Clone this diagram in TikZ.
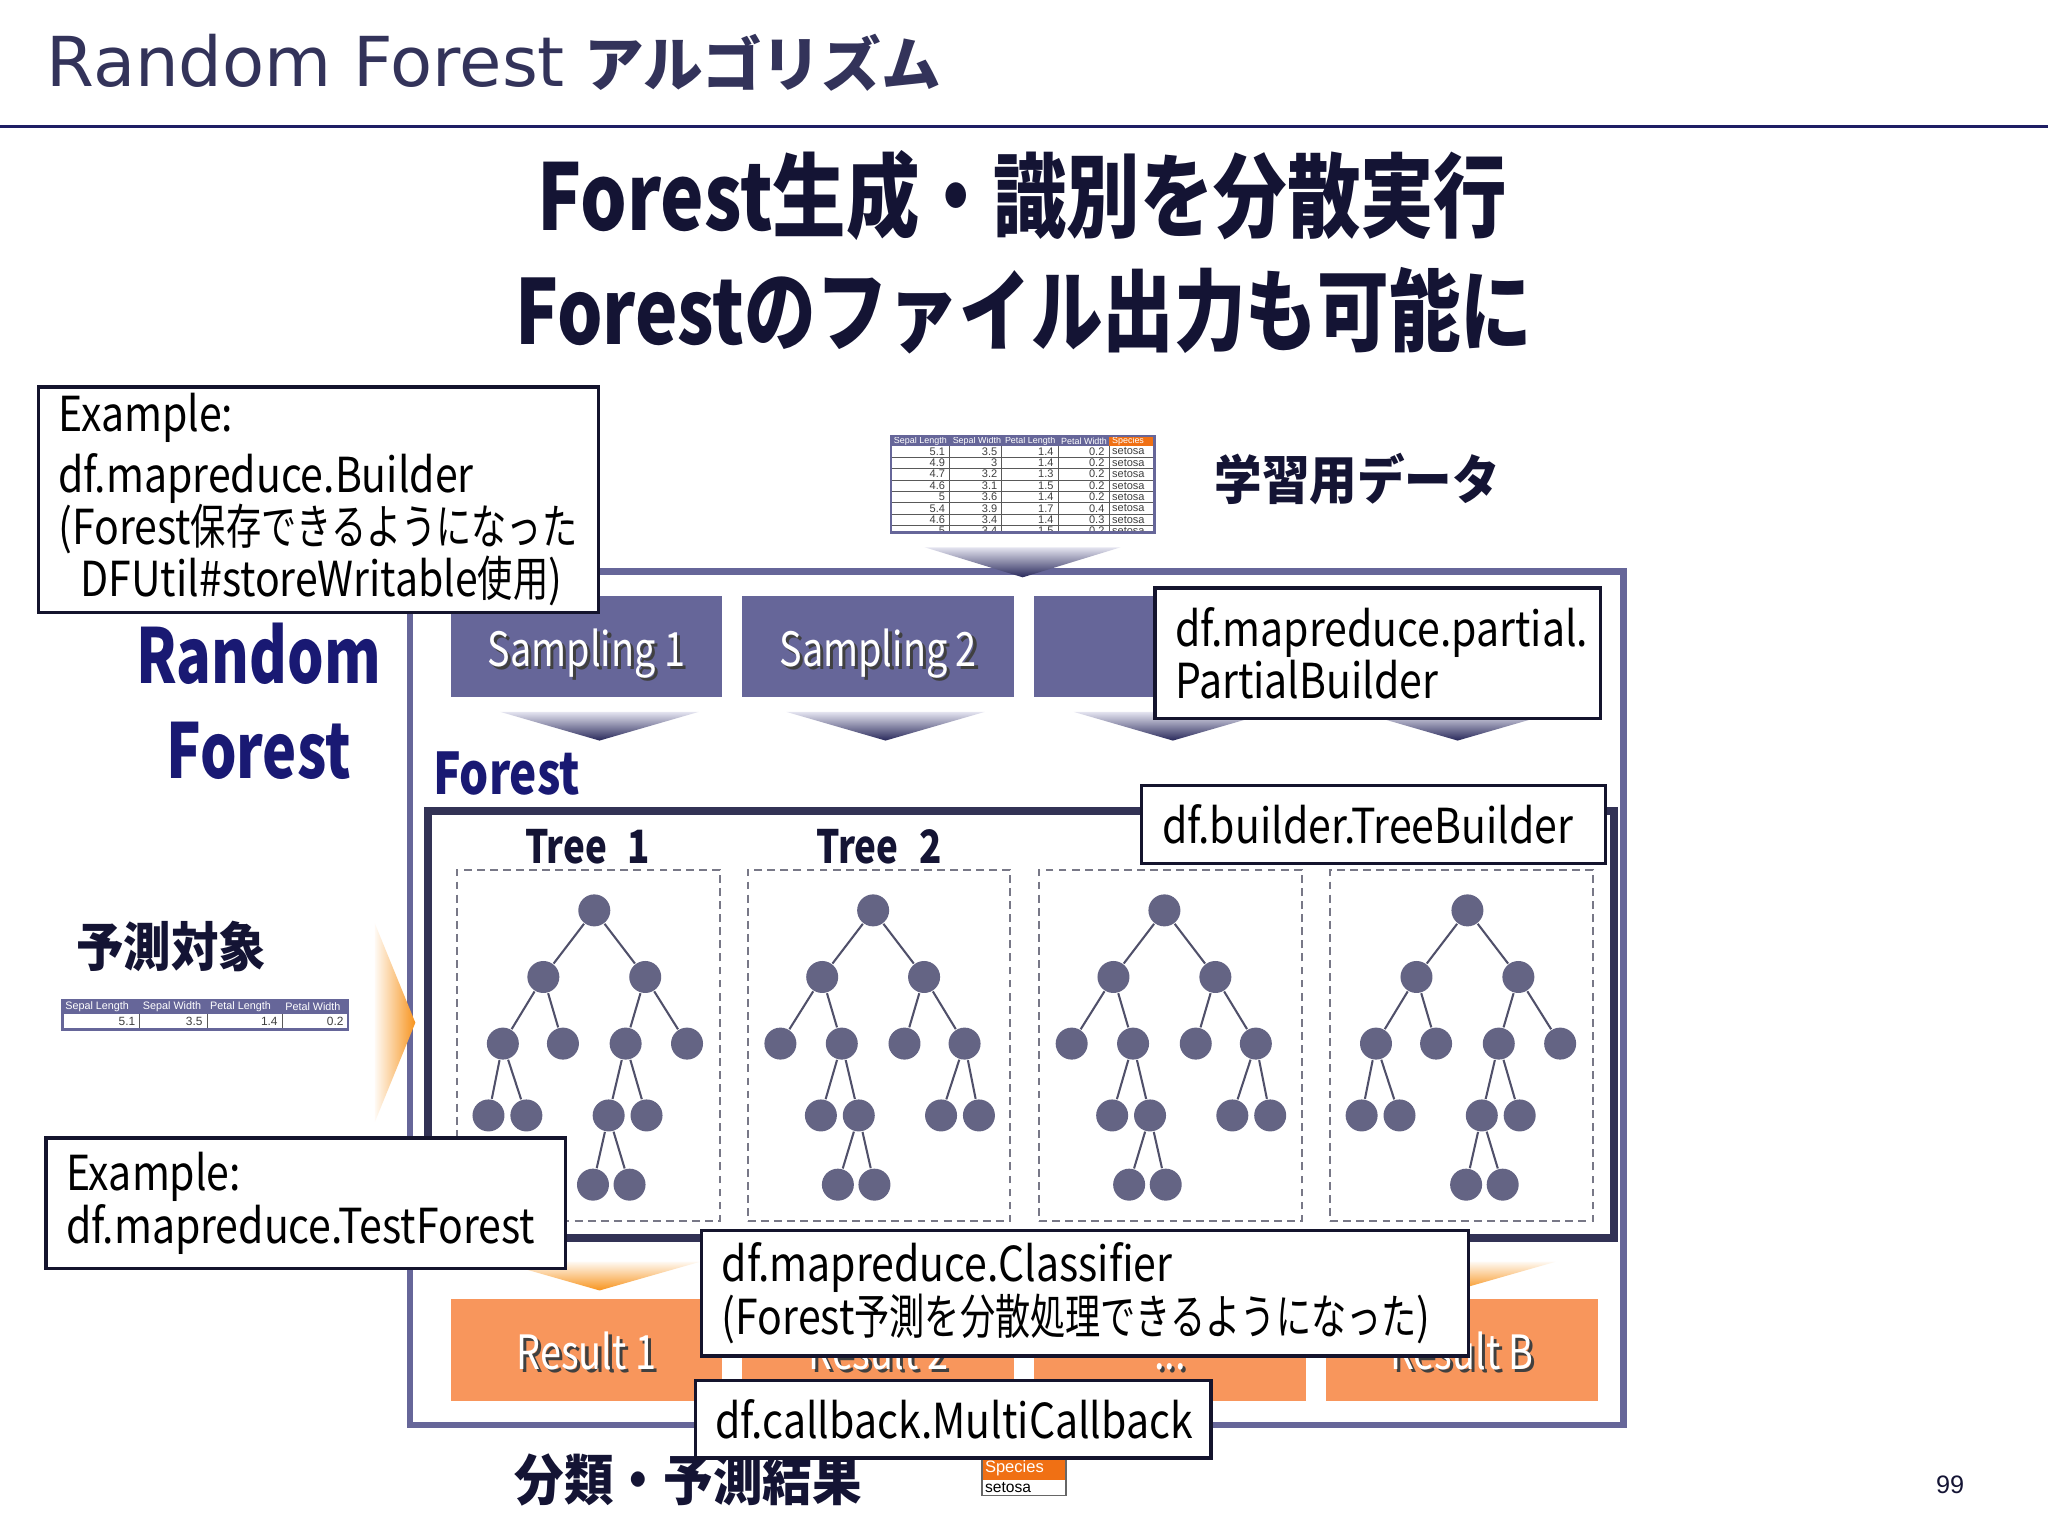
\documentclass[tikz,border=0pt]{standalone}
\usepackage{fontspec}
\setmainfont{Noto Sans CJK JP}[FakeStretch=0.85]
\newfontfamily\jcond{Noto Sans CJK JP}[FakeStretch=0.73]
\newfontfamily\headfont{Noto Sans CJK JP}[FakeStretch=0.8]
\newfontfamily\bigfont{Noto Sans CJK JP}[FakeStretch=0.76]
\newfontfamily\lblfont{Noto Sans CJK JP}[FakeStretch=0.9]
\newfontfamily\jpwide{Noto Sans CJK JP}
\newfontfamily\titlefont{DejaVu Sans}
\newfontfamily\tabfont{Liberation Sans}
\usepackage{tikz}
\usepackage{xcolor}
\definecolor{TitleNavy}{RGB}{51,51,90}
\definecolor{RuleNavy}{RGB}{30,30,100}
\definecolor{HeadNavy}{RGB}{20,20,52}
\definecolor{BigBlue}{RGB}{25,25,115}
\definecolor{FramePurple}{RGB}{102,102,153}
\definecolor{ForestNavy}{RGB}{50,50,85}
\definecolor{NodeGray}{RGB}{100,100,132}
\definecolor{ResultOrange}{RGB}{248,150,92}
\definecolor{ChevOrange}{RGB}{247,148,30}
\definecolor{SpeciesOrange}{RGB}{240,112,20}
\definecolor{ChevDark}{RGB}{40,40,90}
\definecolor{ChevLight}{RGB}{228,228,240}
\definecolor{DashGray}{RGB}{120,120,135}
\definecolor{NoteLine}{RGB}{20,20,45}
\usetikzlibrary{positioning,calc}
\newcommand{\shtxt}[1]{\rlap{\kern0.7pt\raisebox{-0.7pt}{\textcolor{black!75}{#1}}}#1}

\begin{document}
\begin{tikzpicture}[x=0.1mm, y=-0.1mm,
    samp/.style={rectangle, fill=FramePurple, minimum width=20.8mm, minimum height=7.8mm,
                 inner sep=0pt, text=white, font=\headfont\fontsize{10.3}{12}\selectfont,
                 text height=3.1mm, text depth=0.1mm},
    res/.style={samp, fill=ResultOrange},
    tbox/.style={rectangle, draw=DashGray, dash pattern=on 0.6mm off 0.4mm, line width=0.45pt,
                 minimum width=20.1mm, minimum height=26.9mm, inner sep=0pt},
    nd/.style={circle, fill=NodeGray, minimum size=2.45mm, inner sep=0pt},
    ed/.style={draw=NodeGray!80!black, line width=0.45pt},
    note/.style={rectangle, draw=NoteLine, line width=0.7pt, fill=white, anchor=north west,
                 align=left, inner xsep=1.55mm, inner ysep=0pt,
                 font={\fontsize{10.5}{11.4}\selectfont\hyphenpenalty=10000}},
    lbl/.style={font=\lblfont\bfseries\fontsize{11.5}{13}\selectfont, text=HeadNavy},
    chev/.style={top color=ChevLight, bottom color=ChevDark},
    ochev/.style={top color=ChevOrange!6, bottom color=ChevOrange},
    cell/.style={font=\tabfont\fontsize{2.4}{2.8}\selectfont, inner sep=0.5pt, text=black!75},
    hcell/.style={cell, anchor=west, text=white, font=\tabfont\fontsize{1.95}{2.4}\selectfont},
]
\useasboundingbox (0,0) rectangle (1568,1176);
\fill[white] (0,0) rectangle (1568,1176);

% title bar
\node[anchor=west, inner sep=0pt, text=TitleNavy] (title) at (35,48)
  {{\titlefont\fontsize{15}{18}\selectfont Random Forest}\hspace{1.5mm}{\jpwide\bfseries\fontsize{13}{16}\selectfont アルゴリズム}};
\draw[RuleNavy, line width=0.22mm] (0,97) -- (1568,97);

\node[font=\headfont\bfseries\fontsize{20}{24}\selectfont, text=HeadNavy] (head1) at (783,150) {Forest生成・識別を分散実行};
\node[font=\headfont\bfseries\fontsize{19.5}{24}\selectfont, text=HeadNavy] (head2) at (784,238) {Forestのファイル出力も可能に};

% training data
\begin{scope}
  \clip (681,333) rectangle (885,407.6);
  \fill[FramePurple] (682,334) rectangle (849,341.3);
  \fill[SpeciesOrange] (849,334) rectangle (884,341.3);
  \foreach \x/\h [count=\k] in {682/Sepal Length, 727/Sepal Width, 767/Petal Length, 810/Petal Width, 849/Species}
    \node[hcell] (th\k) at (\x,337.7) {\h};
  \foreach \a/\b/\c/\d [count=\r] in {5.1/3.5/1.4/0.2, 4.9/3/1.4/0.2, 4.7/3.2/1.3/0.2, 4.6/3.1/1.5/0.2,
      5/3.6/1.4/0.2, 5.4/3.9/1.7/0.4, 4.6/3.4/1.4/0.3, 5/3.4/1.5/0.2} {
    \pgfmathsetmacro{\yy}{336.95+8.7*\r}
    \node[cell, anchor=east] (da\r) at (726,\yy) {\a};
    \node[cell, anchor=east] (db\r) at (766,\yy) {\b};
    \node[cell, anchor=east] (dc\r) at (809,\yy) {\c};
    \node[cell, anchor=east] (dd\r) at (848,\yy) {\d};
    \node[cell, anchor=west] (de\r) at (849,\yy) {setosa};
    \draw[black!65, line width=0.15pt] (682,\yy+4.35) -- (884,\yy+4.35);
  }
  \foreach \x in {727,767,810,849}
    \draw[black!65, line width=0.15pt] (\x,341.3) -- (\x,410);
\end{scope}
\draw[FramePurple, line width=0.5pt] (682,334) rectangle (884,407.6);
\node[lbl] (train) at (1039,367) {学習用データ};

% outer frame
\draw[FramePurple, line width=0.5mm] (314,437.5) rectangle (1243,1091);
\shade[chev] (708,419) -- (858,419) -- (783,442) -- cycle;

\node[samp] (s1) at (449,495) {\shtxt{Sampling 1}};
\node[samp, right=1.4mm of s1] (s2) {\shtxt{Sampling 2}};
\node[samp, right=1.4mm of s2] (s3) {};
\node[samp, right=1.4mm of s3] (s4) {};
\foreach \cx in {459,678,898,1116}
  \shade[chev] (\cx-76,545) -- (\cx+76,545) -- (\cx,567) -- cycle;

% forest
\node[anchor=west, inner sep=0pt, font=\headfont\bfseries\fontsize{12.5}{14}\selectfont, text=BigBlue] (flbl) at (331,592) {Forest};
\draw[ForestNavy, line width=0.6mm] (328,621) rectangle (1236,948);
\node[font=\headfont\bfseries\fontsize{10}{12}\selectfont, text=HeadNavy] (tl1) at (450,648) {Tree\hspace{0.45em}1};
\node[font=\headfont\bfseries\fontsize{10}{12}\selectfont, text=HeadNavy] (tl2) at (673,648) {Tree\hspace{0.45em}2};

\foreach \t/\cx/\m in {1/450.5/1, 2/673/-1, 3/896/-1, 4/1119/1} {
  \node[tbox] (tb\t) at (\cx,800.5) {};
  \node[nd] (t\t-r) at (\cx+\m*4.5,697) {};
  \node[nd] (t\t-a) at (\cx-\m*34.5,748) {};
  \node[nd] (t\t-b) at (\cx+\m*43.5,748) {};
  \node[nd] (t\t-c) at (\cx-\m*65.5,799) {};
  \node[nd] (t\t-d) at (\cx-\m*19.5,799) {};
  \node[nd] (t\t-e) at (\cx+\m*28.5,799) {};
  \node[nd] (t\t-f) at (\cx+\m*75.5,799) {};
  \node[nd] (t\t-g) at (\cx-\m*76.5,854) {};
  \node[nd] (t\t-h) at (\cx-\m*47.5,854) {};
  \node[nd] (t\t-i) at (\cx+\m*15.5,854) {};
  \node[nd] (t\t-j) at (\cx+\m*44.5,854) {};
  \node[nd] (t\t-k) at (\cx+\m*3.5,907) {};
  \node[nd] (t\t-l) at (\cx+\m*31.5,907) {};
  \foreach \p/\q in {r/a, r/b, a/c, a/d, b/e, b/f, c/g, c/h, e/i, e/j, i/k, i/l}
    \draw[ed] (t\t-\p) -- (t\t-\q);
}

% results
\foreach \cx in {459,678,898,1114}
  \shade[ochev] (\cx-77,966) -- (\cx+77,966) -- (\cx,988) -- cycle;
\node[res] (r1) at (449,1033.5) {\shtxt{Result 1}};
\node[res, right=1.4mm of r1] (r2) {\shtxt{Result 2}};
\node[res, right=1.4mm of r2] (r3) {\shtxt{...}};
\node[res, right=1.4mm of r3] (r4) {\shtxt{Result B}};

% left side
\node[font=\bigfont\bfseries\fontsize{16.5}{20.8}\selectfont, text=BigBlue, align=center] (rf) at (198,537) {Random\\Forest};
\node[lbl] (pred) at (131,725) {予測対象};
\fill[FramePurple] (47.6,765.7) rectangle (266.5,776.4);
\foreach \x/\h [count=\k] in {47.6/Sepal Length, 107/Sepal Width, 158.5/Petal Length, 216/Petal Width}
  \node[hcell, font=\tabfont\fontsize{2.35}{2.8}\selectfont] (qh\k) at (\x,771) {\h};
\foreach \x/\v [count=\k] in {106/5.1, 157.5/3.5, 215/1.4, 265.5/0.2}
  \node[cell, anchor=east, font=\tabfont\fontsize{2.6}{3}\selectfont] (qv\k) at (\x,782.2) {\v};
\foreach \x in {107,158.5,216}
  \draw[black!65, line width=0.15pt] (\x,776.4) -- (\x,788);
\draw[FramePurple, line width=0.6pt] (47.6,765.7) rectangle (266.5,788);
\shade[left color=ChevOrange!5, right color=ChevOrange] (287,707) -- (318,783) -- (287,859) -- cycle;

% bottom
\node[lbl, font=\lblfont\bfseries\fontsize{12}{14}\selectfont] (cls) at (527,1133) {分類・予測結果};
\fill[SpeciesOrange] (751.7,1115) rectangle (816,1133);
\node[cell, anchor=west, text=white, font=\tabfont\fontsize{3.6}{4}\selectfont] (sh) at (751.7,1124) {Species};
\node[cell, anchor=west, text=black, font=\tabfont\fontsize{3.4}{4}\selectfont] (sv) at (751.7,1139) {setosa};
\draw[black!60, line width=0.4pt] (751.7,1115) rectangle (816,1145);
\node[font=\tabfont\fontsize{5.5}{6}\selectfont, text=HeadNavy] (pg) at (1493,1137) {99};

% callouts
\node[note, text width=39.8mm, minimum height=17.3mm] (nbuild) at (28,295)
  {Example:\\[0.6mm]df.mapreduce.Builder\\(Forest{\jcond 保存できるようになった}\\\hspace*{1.7mm}DFUtil\#storeWritable{\jcond 使用})};
\node[note, text width=31.0mm, minimum height=10mm] (npart) at (883,449)
  {df.mapreduce.partial.\\PartialBuilder};
\node[note, text width=32.4mm, minimum height=6mm] (ntree) at (873,600) {df.builder.TreeBuilder};
\node[note, text width=36.7mm, minimum height=10mm] (ntest) at (34,870) {Example:\\df.mapreduce.TestForest};
\node[note, text width=55.6mm, minimum height=9.6mm] (nclass) at (536,941)
  {df.mapreduce.Classifier\\(Forest{\jcond 予測を分散処理できるようになった})};
\node[note, text width=36.4mm, minimum height=5.9mm] (nmulti) at (531,1056) {df.callback.MultiCallback};
\end{tikzpicture}
\end{document}
